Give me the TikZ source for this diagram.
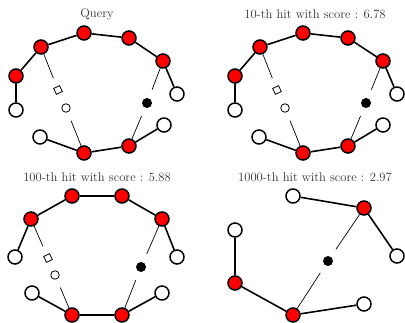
\documentclass[tikz,border=0pt]{standalone}
\begin{document}
\begin{tikzpicture}[x=1pt,y=-1pt,
  rnode/.style={circle,draw=black,fill=red,line width=1.5pt,minimum size=14pt,inner sep=0pt},
  wnode/.style={circle,draw=black,fill=white,line width=1.5pt,minimum size=14pt,inner sep=0pt},
  sqmark/.style={rectangle,draw=black,line width=0.8pt,minimum size=6.5pt,inner sep=0pt,rotate=25},
  cmark/.style={circle,draw=black,line width=0.8pt,minimum size=8.5pt,inner sep=0pt},
  dmark/.style={circle,fill=black,minimum size=10pt,inner sep=0pt},
  edge/.style={line width=1.6pt},
  thin/.style={line width=0.7pt,shorten >=9pt},
  ttl/.style={font=\fontsize{12.6}{14}\selectfont,text=black!80}]
\useasboundingbox (0,0) rectangle (405,323);
% ---------- Query ----------
\node[ttl] (t1) at (97,14) {Query};
\node[rnode] (a1) at (16,76) {};
\node[rnode] (a2) at (41,47) {};
\node[rnode] (a3) at (84,33) {};
\node[rnode] (a4) at (129,38) {};
\node[rnode] (a5) at (163,61) {};
\node[rnode] (a6) at (84,153) {};
\node[rnode] (a7) at (129,146) {};
\node[wnode] (aw1) at (16,110) {};
\node[wnode] (aw2) at (177,94) {};
\node[wnode] (aw3) at (40,137) {};
\node[wnode] (aw4) at (164,125) {};
\node[sqmark] (as) at (58,90) {};
\node[cmark] (ac) at (66,108) {};
\node[dmark] (ad) at (147,103) {};
\draw[edge] (aw1)--(a1)--(a2)--(a3)--(a4)--(a5)--(aw2);
\draw[edge] (aw3)--(a6)--(a7)--(aw4);
\draw[thin] (a2)--(as);
\draw[thin] (a6)--(ac);
\draw[thin] (a5)--(ad);
\draw[thin] (a7)--(ad);
% ---------- 10-th ----------
\node[ttl] (t2) at (315,14) {10-th hit with score : 6.78};
\node[rnode] (b1) at (235,76) {};
\node[rnode] (b2) at (260,47) {};
\node[rnode] (b3) at (303,33) {};
\node[rnode] (b4) at (348,38) {};
\node[rnode] (b5) at (383,61) {};
\node[rnode] (b6) at (303,153) {};
\node[rnode] (b7) at (348,146) {};
\node[wnode] (bw1) at (235,110) {};
\node[wnode] (bw2) at (397,94) {};
\node[wnode] (bw3) at (259,137) {};
\node[wnode] (bw4) at (383,125) {};
\node[sqmark] (bs) at (277,90) {};
\node[cmark] (bc) at (285,108) {};
\node[dmark] (bd) at (366,103) {};
\draw[edge] (bw1)--(b1)--(b2)--(b3)--(b4)--(b5)--(bw2);
\draw[edge] (bw3)--(b6)--(b7)--(bw4);
\draw[thin] (b2)--(bs);
\draw[thin] (b6)--(bc);
\draw[thin] (b5)--(bd);
\draw[thin] (b7)--(bd);
% ---------- 100-th ----------
\node[ttl] (t3) at (97,177) {100-th hit with score : 5.88};
\node[rnode] (c1) at (31,219) {};
\node[rnode] (c2) at (72,196) {};
\node[rnode] (c3) at (122,196) {};
\node[rnode] (c4) at (162,219) {};
\node[rnode] (c5) at (72,315) {};
\node[rnode] (c6) at (122,315) {};
\node[wnode] (cw1) at (15,257) {};
\node[wnode] (cw2) at (177,257) {};
\node[wnode] (cw3) at (32,293) {};
\node[wnode] (cw4) at (162,293) {};
\node[sqmark] (cs) at (48,258) {};
\node[cmark] (cc) at (55,275) {};
\node[dmark] (cd) at (141,267) {};
\draw[edge] (cw1)--(c1)--(c2)--(c3)--(c4)--(cw2);
\draw[edge] (cw3)--(c5)--(c6)--(cw4);
\draw[thin] (c1)--(cs);
\draw[thin] (c5)--(cc);
\draw[thin] (c4)--(cd);
\draw[thin] (c6)--(cd);
% ---------- 1000-th ----------
\node[ttl] (t4) at (315,177) {1000-th hit with score : 2.97};
\node[wnode] (dw1) at (293,196) {};
\node[wnode] (dw2) at (235,230) {};
\node[wnode] (dw3) at (397,256) {};
\node[wnode] (dw4) at (364,304) {};
\node[rnode] (d1) at (364,208) {};
\node[rnode] (d2) at (235,283) {};
\node[rnode] (d3) at (293,315) {};
\node[dmark] (dd) at (328,261) {};
\draw[edge] (dw1)--(d1)--(dw3);
\draw[edge] (dw2)--(d2)--(d3)--(dw4);
\draw[thin] (d1)--(dd);
\draw[thin] (d3)--(dd);
\end{tikzpicture}
\end{document}
